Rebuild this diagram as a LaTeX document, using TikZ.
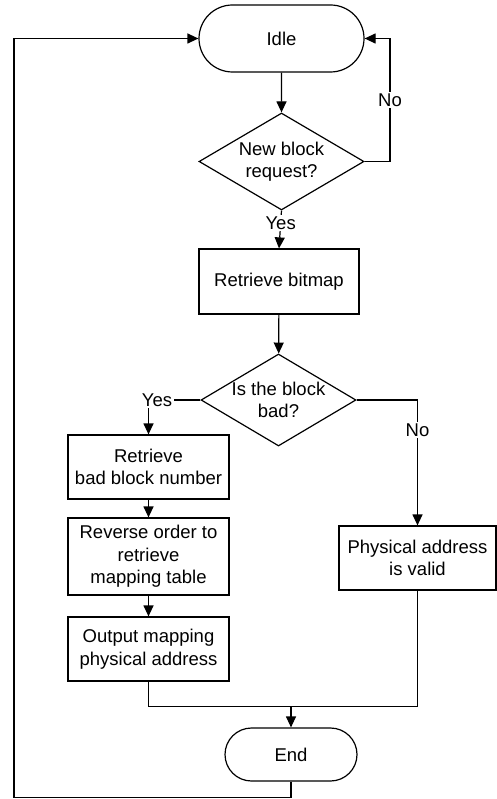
\documentclass[tikz,border=0pt]{standalone}
\usepackage{fontspec}
\setmainfont{Liberation Sans}
\usetikzlibrary{shapes.geometric,shapes.misc,arrows.meta}
\begin{document}
\begin{tikzpicture}[x=1pt,y=-1pt,line width=1.2pt,
  txt/.style={font=\fontsize{18.5}{22.5}\selectfont,align=center},
  box/.style={draw,rectangle,inner sep=0pt,txt},
  term/.style={draw,rounded rectangle,inner sep=0pt,txt},
  dia/.style={draw,diamond,inner sep=0pt},
  lbl/.style={txt,fill=white,inner sep=1.5pt},
  arr/.style={-{Triangle[length=11pt,width=10pt]}}]
\useasboundingbox (0,0) rectangle (497,799);

% terminals, decisions and process boxes
\node[term,minimum width=165pt,minimum height=67pt] (idle) at (281.5,38.5) {Idle};
\node[dia,minimum width=165pt,minimum height=97pt] (d1) at (281.5,161.5) {};
\node[txt] (d1t) at (d1) {New block\\request?};
\node[box,minimum width=160pt,minimum height=65pt] (bitmap) at (279,281.5) {Retrieve bitmap};
\node[dia,minimum width=155pt,minimum height=92pt] (d2) at (278.5,400) {};
\node[txt] (d2t) at (d2) {Is the block\\bad?};
\node[box,minimum width=161pt,minimum height=64pt] (badnum) at (148.5,467) {Retrieve\\bad block number};
\node[box,minimum width=161pt,minimum height=77pt] (rev) at (148.5,556.5) {Reverse order to\\retrieve\\mapping table};
\node[box,minimum width=161pt,minimum height=64pt] (out) at (148.5,649) {Output mapping\\physical address};
\node[box,minimum width=157pt,minimum height=64pt] (phys) at (417.5,558) {Physical address\\is valid};
\node[term,minimum width=132pt,minimum height=53pt] (end) at (291,754.5) {End};

% helper points for the merge and the return loop
\coordinate (m) at (291,706.5);
\coordinate (lb) at (14,797.5);
\coordinate (rn) at (390,161.5);

% connectors
\draw[arr] (idle) -- (d1);
\draw[arr] (d1.east) -- (rn) |- node[lbl,pos=0.25]{No} (idle.east);
\draw[arr] (d1.south) -- node[lbl,pos=0.33]{Yes} (bitmap.north);
\draw[arr] (bitmap) -- (d2);
\draw[arr] (d2.west) -| (badnum.north);
\node[lbl] (yes2) at ([xshift=8.5pt]d2.west -| badnum.north) {Yes};
\draw[arr] (d2.east) -| node[lbl,pos=0.62]{No} (phys.north);
\draw[arr] (badnum) -- (rev);
\draw[arr] (rev) -- (out);
\draw (out.south) |- (m);
\draw (phys.south) |- (m);
\draw[arr] (m) -- (end.north);
\draw[arr] (end.south) |- (lb) |- (idle.west);
\end{tikzpicture}
\end{document}
